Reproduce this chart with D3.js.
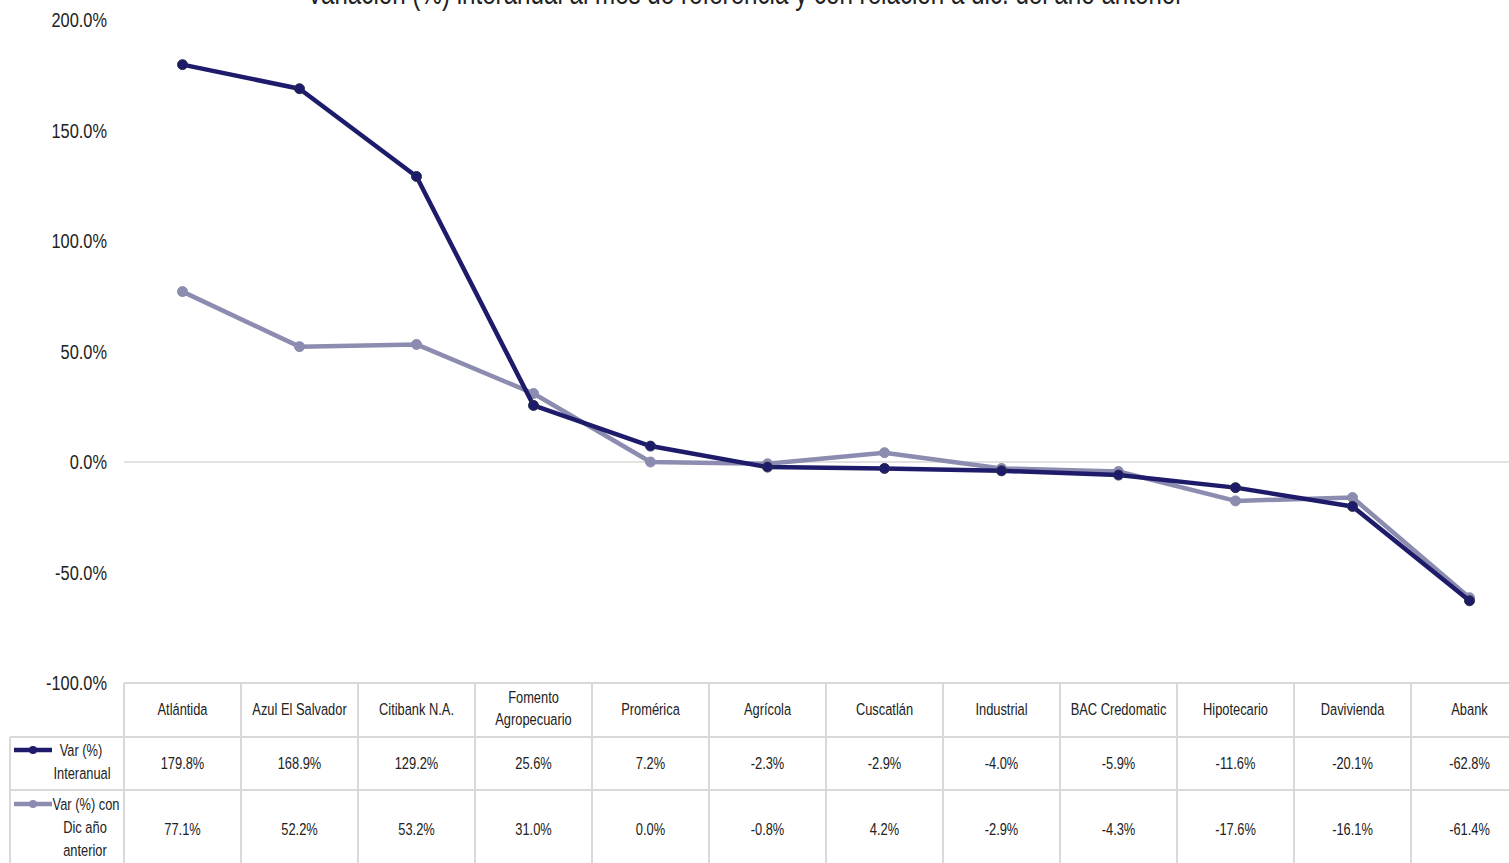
<!DOCTYPE html>
<html><head><meta charset="utf-8">
<script src="https://cdn.jsdelivr.net/npm/d3@7"></script>
<style>body{margin:0;background:#fff;overflow:hidden}svg{display:block}text{font-family:"Liberation Sans","DejaVu Sans",sans-serif;fill:#222}</style>
</head><body><svg id="c" width="1509" height="863"></svg>
<script>
const categories=["Atlántida","Azul El Salvador","Citibank N.A.","Fomento Agropecuario","Promérica","Agrícola","Cuscatlán","Industrial","BAC Credomatic","Hipotecario","Davivienda","Abank"];
const interanual=[179.8,168.9,129.2,25.6,7.2,-2.3,-2.9,-4.0,-5.9,-11.6,-20.1,-62.8];
const dicAnterior=[77.1,52.2,53.2,31.0,0.0,-0.8,4.2,-2.9,-4.3,-17.6,-16.1,-61.4];
const yTicks=[-100,-50,0,50,100,150,200];
const title="Variación (%) interanual al mes de referencia y con relación a dic. del año anterior";
const seriesNames=[["Var (%)","Interanual"],["Var (%) con","Dic año","anterior"]];
const colors=["#1e1b6b","#8c8cb0"];

const svg=d3.select("#c");
const x0=124,colW=117;
const x=d3.scaleBand().domain(categories).range([x0,x0+colW*categories.length]);
const y=d3.scaleLinear().domain([-100,200]).range([683,20]);
const fmt=d=>(d<0?"-":"")+Math.abs(d).toFixed(1)+"%";
const SX=0.78;
function txt(px,py,s,size,anchor){
  return svg.append("text").attr("transform",`translate(${px},${py}) scale(${SX},1)`)
   .attr("text-anchor",anchor||"middle").style("font-size",size+"px").text(s);
}

txt(745,4,title,31);

yTicks.forEach(d=>txt(107,y(d)+7,fmt(d),21,"end"));
svg.append("line").attr("x1",x0).attr("x2",1509).attr("y1",y(0)).attr("y2",y(0)).attr("stroke","#d9d9d9").attr("stroke-width",1.5);

const g=svg.append("g").attr("stroke","#d9d9d9").attr("stroke-width",2);
g.append("line").attr("x1",x0).attr("x2",1509).attr("y1",683).attr("y2",683);
g.append("line").attr("x1",10).attr("x2",1509).attr("y1",737).attr("y2",737);
g.append("line").attr("x1",10).attr("x2",1509).attr("y1",790).attr("y2",790);
g.append("line").attr("x1",10).attr("x2",10).attr("y1",737).attr("y2",863);
g.selectAll(".v").data(categories).enter().append("line")
 .attr("x1",d=>x(d)).attr("x2",d=>x(d)).attr("y1",683).attr("y2",863);

categories.forEach(c=>{
  const cx=x(c)+x.bandwidth()/2;
  const parts=c==="Fomento Agropecuario"?["Fomento","Agropecuario"]:[c];
  parts.forEach((p,i)=>txt(cx,parts.length===1?715:703+i*22,p,16.5));
});
[interanual,dicAnterior].forEach((arr,si)=>{
  arr.forEach((d,i)=>txt(x(categories[i])+x.bandwidth()/2,si===0?769:835,fmt(d),16.5));
});
[[750,0],[804,1]].forEach(([ly,si])=>{
  svg.append("line").attr("x1",14).attr("x2",52).attr("y1",ly).attr("y2",ly).attr("stroke",colors[si]).attr("stroke-width",4.5);
  svg.append("circle").attr("cx",33).attr("cy",ly).attr("r",4).attr("fill",colors[si]);
});
txt(81,756,seriesNames[0][0],16.5);
txt(82,779,seriesNames[0][1],16.5);
txt(86,810,seriesNames[1][0],16.5);
txt(85,833,seriesNames[1][1],16.5);
txt(85,856,seriesNames[1][2],16.5);

const line=d3.line().x((d,i)=>x(categories[i])+x.bandwidth()/2).y(d=>y(d));
[dicAnterior,interanual].forEach((arr,k)=>{
  const si=k===0?1:0;
  svg.append("path").datum(arr).attr("d",line).attr("fill","none").attr("stroke",colors[si]).attr("stroke-width",4.5).attr("stroke-linejoin","round");
  svg.selectAll(".m"+si).data(arr).enter().append("circle")
   .attr("cx",(d,i)=>x(categories[i])+x.bandwidth()/2).attr("cy",d=>y(d)).attr("r",5)
   .attr("fill",colors[si]).attr("stroke",si===0?"#2a2f4a":colors[si]).attr("stroke-width",1);
});
</script></body></html>
